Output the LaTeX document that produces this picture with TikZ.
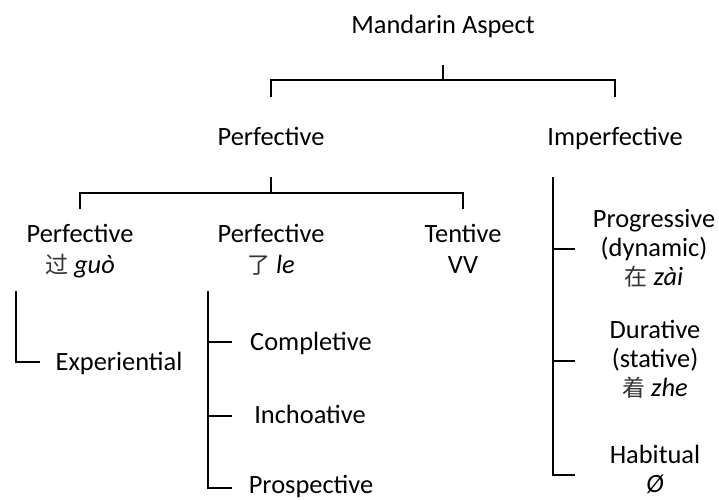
\documentclass[tikz,border=0pt]{standalone}
\usepackage{fontspec}
\setmainfont{Carlito}
\newfontfamily\cjk{Noto Sans CJK SC}
\usetikzlibrary{calc}
\newcommand{\zh}[1]{{\cjk\fontsize{23}{29}\selectfont\color{black!80}#1}}
\begin{document}
\begin{tikzpicture}[x=1pt,y=-1pt,
  lbl/.style={inner sep=0pt,anchor=base,align=center,font=\fontsize{26.4}{29}\selectfont},
  lblw/.style={lbl,font=\fontsize{26.4}{31}\selectfont},
  br/.style={line width=2.9pt,line join=miter}]
\fill[white] (0,0) rectangle (719,499);
\useasboundingbox (0,0) rectangle (719,499);
% nodes (base = baseline of the last line)
\node[lbl] (root) at (443,33) {Mandarin Aspect};
\node[lbl] (perf) at (271,145) {Perfective};
\node[lbl] (imperf) at (615,145) {Imperfective};
\node[lblw] (guo) at (80,273) {Perfective\\\zh{过} \textit{guò}};
\node[lblw] (le) at (271,273) {Perfective\\\zh{了} \textit{le}};
\node[lblw] (tent) at (463,273) {Tentive\\VV};
\node[lbl] (exp) at (119,370) {Experiential};
\node[lbl] (comp) at (311,350) {Completive};
\node[lbl] (inch) at (310,423) {Inchoative};
\node[lbl] (prosp) at (311,493) {Prospective};
\node[lbl] (prog) at (654,285) {Progressive\\(dynamic)\\\zh{在} \textit{zài}};
\node[lbl] (dur) at (655,396) {Durative\\(stative)\\\zh{着} \textit{zhe}};
\node[lbl] (hab) at (655,492) {Habitual\\\textit{Ø}};
% top bracket
\draw[br] (root.base) ++(0,32) -- ++(0,15);
\draw[br] ($(perf.base)+(0,-48)$) |- ($(imperf.base)+(0,-65)$) -- ($(imperf.base)+(0,-48)$);
% perfective bracket
\draw[br] (perf.base) ++(0,32) -- ++(0,16);
\draw[br] ($(guo.base)+(0,-64)$) |- ($(tent.base)+(0,-80)$) -- ($(tent.base)+(0,-64)$);
% guo -> experiential
\draw[br] ($(guo.base)+(-64,18)$) |- ($(exp.base)+(-79,-8)$);
% le -> completive, inchoative, prospective
\draw[br] ($(le.base)+(-63,18)$) |- ($(prosp.base)+(-79,-5)$);
\draw[br] ($(comp.base)+(-103,-8)$) -- ($(comp.base)+(-79,-8)$);
\draw[br] ($(inch.base)+(-102,-7)$) -- ($(inch.base)+(-78,-7)$);
% imperfective
\draw[br] ($(imperf.base)+(-62,32)$) |- ($(hab.base)+(-80,-17)$);
\draw[br] ($(prog.base)+(-101,-36)$) -- ($(prog.base)+(-79,-36)$);
\draw[br] ($(dur.base)+(-102,-35)$) -- ($(dur.base)+(-80,-35)$);
\end{tikzpicture}
\end{document}
